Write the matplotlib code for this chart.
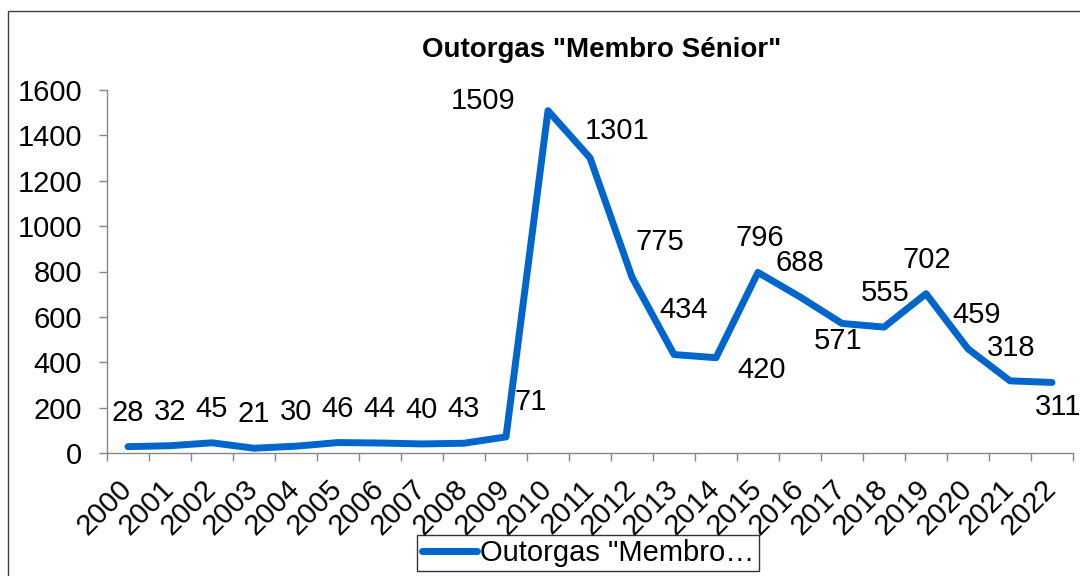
import matplotlib.pyplot as plt
from matplotlib.patches import Rectangle

plt.rcParams['font.family'] = ['Liberation Sans', 'DejaVu Sans']

years = [str(y) for y in range(2000, 2023)]
values = [28, 32, 45, 21, 30, 46, 44, 40, 43, 71, 1509, 1301, 775, 434, 420,
          796, 688, 571, 555, 702, 459, 318, 311]
# label offsets in pixels (dx, dy), positive dy = up
label_offsets = [(0, 34)] * 9 + [(25, 35), (-65, 10), (27, 27), (28, 35), (10, 45),
                                 (46, -12), (2, 34), (0, 34), (-4, -18), (1, 34),
                                 (1, 34), (9, 34), (1, 33), (6, -25)]

fig = plt.figure(figsize=(10.8, 5.76), dpi=100)
ax = fig.add_axes([107 / 1080, 1 - 453 / 576, 966 / 1080, (453 - 90) / 576])

x = list(range(len(years)))
ax.plot(x, values, color='#0066CC', lw=5, solid_joinstyle='round',
        solid_capstyle='round', label='Outorgas "Membro…')

for xi, v, (dx, dy) in zip(x, values, label_offsets):
    ax.annotate(str(v), (xi, v), xytext=(dx, dy), textcoords='offset pixels',
                ha='center', va='center', fontsize=21)

ax.set_xlim(-0.5, len(years) - 0.5)
ax.set_ylim(0, 1600)
ax.set_yticks(range(0, 1601, 200))

# labels at category centres, ticks at boundaries
ax.set_xticks(x)
ax.set_xticklabels(years, rotation=45, ha='right', va='center', rotation_mode='anchor')
ax.set_xticks([i - 0.5 for i in range(len(years) + 1)], minor=True)
ax.tick_params(axis='x', which='major', length=0, pad=23, labelsize=21)
ax.tick_params(axis='x', which='minor', length=6, width=1, color='#868686', direction='out')
ax.tick_params(axis='y', length=6, width=1, color='#868686', pad=12, labelsize=21)

for side in ['top', 'right']:
    ax.spines[side].set_visible(False)
for side in ['left', 'bottom']:
    ax.spines[side].set_color('#868686')
    ax.spines[side].set_linewidth(1)

fig.text(602 / 1080, 1 - 50 / 576, 'Outorgas "Membro Sénior"', ha='center',
         va='center', fontsize=20, fontweight='bold')

leg = fig.legend(loc='center', bbox_to_anchor=(588 / 1080, 1 - 553 / 576),
                 fontsize=21, handlelength=1.9, handletextpad=0.1, borderpad=0.15,
                 fancybox=False, frameon=True, edgecolor='black')
leg.get_frame().set_linewidth(1)

fig.patches.append(Rectangle((8 / 1080, -0.1), 1.2, 1 - 11 / 576 + 0.1,
                             transform=fig.transFigure, fill=False,
                             edgecolor='#404040', lw=1))

fig.savefig('out.png', dpi=100)
